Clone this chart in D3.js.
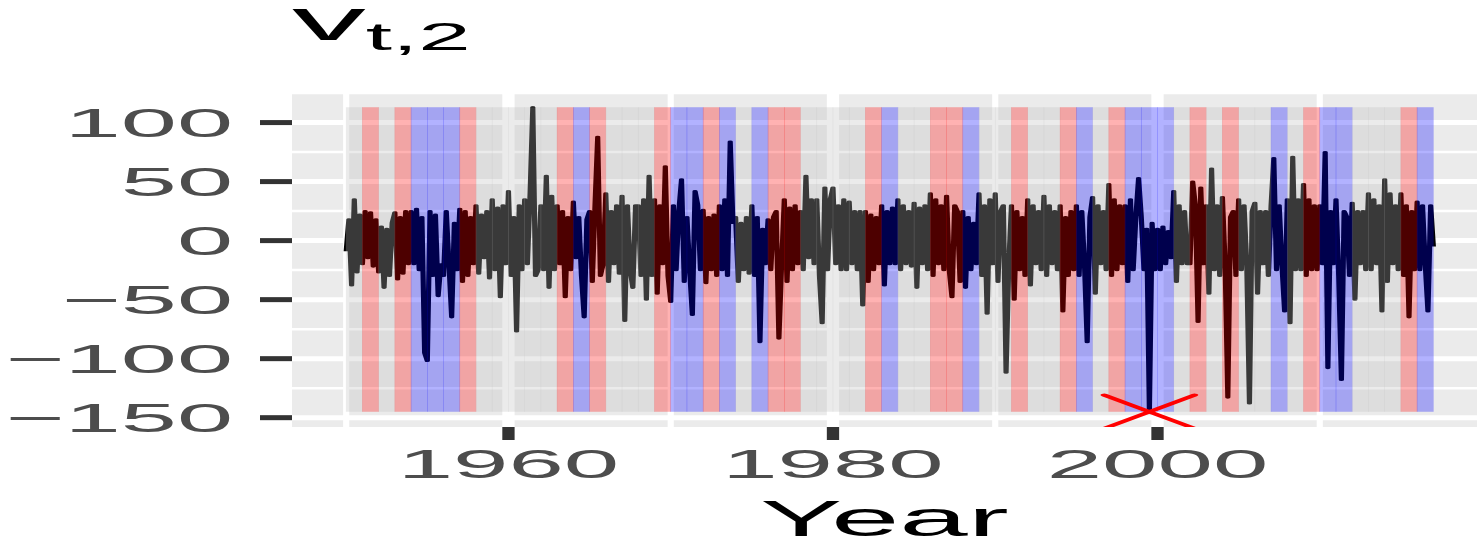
<!DOCTYPE html>
<html>
<head>
<meta charset="utf-8">
<script src="https://cdn.jsdelivr.net/npm/d3@7"></script>
<style>
  html, body { margin: 0; padding: 0; background: #ffffff; }
  svg { display: block; font-family: "Liberation Sans", Arial, Helvetica, sans-serif; }
</style>
</head>
<body>
<svg id="chart" width="1480" height="544"></svg>
<script>
// ---- data -------------------------------------------------------------
const yTicks = [-150, -100, -50, 0, 50, 100];
const yMinorTicks = [-125, -75, -25, 25, 75, 125];
const xTicks = [1960, 1980, 2000];
const xMinorTicks = [1950, 1970, 1990, 2010];
const xDomain = [1946.66, 2019.69];

// one shaded band per year starting at bandStart: n = neutral, r = red, b = blue
const bandStart = 1950;
const bandKinds = [
  "n","r","n","r","b","b","b","r","n","n",   // 1950s
  "n","n","n","r","b","r","n","n","n","r",   // 1960s
  "b","b","r","b","n","b","r","r","n","n",   // 1970s
  "n","n","r","b","n","n","r","r","b","n",   // 1980s
  "n","r","n","n","r","b","n","r","b","b",   // 1990s
  "b","n","r","n","r","n","n","b","n","r",   // 2000s
  "b","b","n","n","n","r","b"                // 2010s
];

// bimonthly series v_{t,2} (six values per year), starting at seriesStart
const seriesStart = 1950;
const perYear = 6;
const seriesValues = [
  -9, 18, -38, 35, -27, 22,      // 1950
  -20, 25, -15, 24, -22, 18,     // 1951
  -27, 12, -40, 10, -30, 15,     // 1952
  24, -33, 20, -28, 25, -20,     // 1953
  25, -20, 27, -25, 20, -95,     // 1954
  -102, 25, -30, 22, -47, -20,   // 1955
  -30, 25, -20, -65, 15, -25,    // 1956
  27, -35, 25, -30, 20, -20,     // 1957
  30, -28, 22, -15, 25, -32,     // 1958
  35, -25, 28, -48, 30, -20,     // 1959
  42, -30, 20, -77, 30, -25,     // 1960
  35, -20, 40, 113, -30, -25,    // 1961
  30, -25, 55, -40, 38, -25,     // 1962
  30, -20, 25, -48, 20, -25,     // 1963
  33, -15, 20, -30, -65, 18,     // 1964
  25, -35, 30, 88, -30, -20,     // 1965
  40, -35, 25, -20, 30, -28,     // 1966
  38, -68, 30, -25, -40, 30,     // 1967
  30, -30, 35, -50, 55, -30,     // 1968
  35, -45, 30, -20, 63, -30,     // 1969
  -52, 30, -25, 25, 52, -35,     // 1970
  20, -25, -63, 42, 30, -25,     // 1971
  26, -36, 20, -25, 22, -30,     // 1972
  30, -25, 35, -30, 84, 15,      // 1973
  20, -35, 15, -25, 20, -28,     // 1974
  30, -30, 20, -86, 10, -20,     // 1975
  18, -25, 20, 25, -83, -20,     // 1976
  35, -35, 28, -25, 30, -20,     // 1977
  25, -25, 55, -15, 35, -20,     // 1978
  35, -30, -70, 45, -25, 35,     // 1979
  45, -20, 30, -25, 35, -25,     // 1980
  33, -20, 25, -25, 25, -55,     // 1981
  25, -35, 22, -25, 20, -20,     // 1982
  30, -38, 25, -20, 28, -20,     // 1983
  35, -25, 30, -20, 25, -22,     // 1984
  32, -40, 28, -20, 30, -25,     // 1985
  40, -30, 35, -20, 30, -25,     // 1986
  38, -25, -48, 30, 25, -35,     // 1987
  25, -40, 20, -25, 15, -20,     // 1988
  40, -30, 30, -62, 35, -20,     // 1989
  40, -35, 25, 30, -112, -20,    // 1990
  30, -50, 25, -25, 20, -30,     // 1991
  35, -38, 30, -20, 25, -25,     // 1992
  38, -30, 30, -20, 25, -25,     // 1993
  30, -60, 20, -30, 25, -25,     // 1994
  30, -30, 25, -20, -86, 20,     // 1995
  37, -45, 30, -20, 25, -25,     // 1996
  48, -30, 35, -25, 30, -20,     // 1997
  30, -35, 35, -25, 20, 53,      // 1998
  20, -25, 10, -145, 15, -25,    // 1999
  10, -25, 12, -20, 8, -15,      // 2000
  42, -35, 30, -20, 25, -20,     // 2001
  -20, 50, 30, -69, 45, -20,     // 2002
  30, -45, 61, -25, 30, -30,     // 2003
  37, -20, -133, 20, 25, -30,    // 2004
  35, -25, 30, -20, -138, 25,    // 2005
  32, -45, 25, -20, 25, -30,     // 2006
  30, 70, -25, 30, -20, -60,     // 2007
  35, -70, 71, -25, 35, -25,     // 2008
  48, -30, 35, -25, 30, -25,     // 2009
  30, -20, 75, -108, 25, -20,    // 2010
  35, -30, -118, 25, 20, -30,    // 2011
  32, -50, 25, -20, 25, -25,     // 2012
  40, -25, 35, -20, 30, -60,     // 2013
  52, -35, 40, -20, 30, -25,     // 2014
  40, -30, 30, -65, 25, -25,     // 2015
  33, -25, 30, -20, -60, 30,     // 2016
  -5                             // 2017
];

// ---- layout -----------------------------------------------------------
// the whole figure is drawn in a frame stretched horizontally by K
const K = 2.46;
const panel = { x0: 292, x1: 1477, y0: 92, y1: 427 };

const series = seriesValues.map((v, i) => ({ t: seriesStart + i / perYear, v }));
const vMin = d3.min(series, d => d.v);
const vMax = d3.max(series, d => d.v);
const pad = (vMax - vMin) * 0.05;
const yDomain = [vMin - pad, vMax + pad];

const x = d3.scaleLinear().domain(xDomain).range([panel.x0 / K, panel.x1 / K]);
const y = d3.scaleLinear().domain(yDomain).range([panel.y1, panel.y0]);

const svg = d3.select("#chart");
const g = svg.append("g").attr("transform", `scale(${K},1)`);

g.append("clipPath").attr("id", "panel-clip")
  .append("rect")
  .attr("x", panel.x0 / K).attr("y", panel.y0)
  .attr("width", (panel.x1 - panel.x0) / K).attr("height", panel.y1 - panel.y0);

// panel background and grid
g.append("rect")
  .attr("x", panel.x0 / K).attr("y", panel.y0)
  .attr("width", (panel.x1 - panel.x0) / K).attr("height", panel.y1 - panel.y0)
  .attr("fill", "#EBEBEB");

const plot = g.append("g").attr("clip-path", "url(#panel-clip)");

plot.selectAll("line.hminor").data(yMinorTicks).join("line")
  .attr("x1", panel.x0 / K).attr("x2", panel.x1 / K)
  .attr("y1", d => y(d)).attr("y2", d => y(d))
  .attr("stroke", "#ffffff").attr("stroke-width", 2.5);
plot.selectAll("line.vminor").data(xMinorTicks).join("line")
  .attr("x1", d => x(d)).attr("x2", d => x(d))
  .attr("y1", panel.y0).attr("y2", panel.y1)
  .attr("stroke", "#ffffff").attr("stroke-width", 2.5);
plot.selectAll("line.hmajor").data(yTicks).join("line")
  .attr("x1", panel.x0 / K).attr("x2", panel.x1 / K)
  .attr("y1", d => y(d)).attr("y2", d => y(d))
  .attr("stroke", "#ffffff").attr("stroke-width", 5);
plot.selectAll("line.vmajor").data(xTicks).join("line")
  .attr("x1", d => x(d)).attr("x2", d => x(d))
  .attr("y1", panel.y0).attr("y2", panel.y1)
  .attr("stroke", "#ffffff").attr("stroke-width", 5);

// series line
const line = d3.line().x(d => x(d.t)).y(d => y(d.v));
plot.append("path")
  .datum(series)
  .attr("d", line)
  .attr("fill", "none")
  .attr("stroke", "#000000")
  .attr("stroke-width", 2.1)
  .attr("stroke-linejoin", "round");

// translucent yearly bands laid over the series
const bandFill = { n: "#BEBEBE", r: "#FF0000", b: "#0000FF" };
const overlap = 0.12;
plot.selectAll("rect.band").data(bandKinds).join("rect")
  .attr("x", (k, i) => x(bandStart + i) - overlap)
  .attr("width", (k, i) => x(bandStart + i + 1) - x(bandStart + i) + 2 * overlap)
  .attr("y", y(vMax))
  .attr("height", y(vMin) - y(vMax))
  .attr("fill", k => bandFill[k])
  .attr("fill-opacity", 0.3);

// cross at the series minimum
const low = series.find(d => d.v === vMin);
const cx = x(low.t), cy = y(low.v);
const armX = 45 / K, armY = 16.7;
plot.append("line")
  .attr("x1", cx - armX).attr("y1", cy - armY).attr("x2", cx + armX).attr("y2", cy + armY)
  .attr("stroke", "#FF0000").attr("stroke-width", 3).attr("stroke-linecap", "round");
plot.append("line")
  .attr("x1", cx - armX).attr("y1", cy + armY).attr("x2", cx + armX).attr("y2", cy - armY)
  .attr("stroke", "#FF0000").attr("stroke-width", 3).attr("stroke-linecap", "round");

// axes
g.selectAll("line.ytick").data(yTicks).join("line")
  .attr("x1", (panel.x0 - 32) / K).attr("x2", panel.x0 / K)
  .attr("y1", d => y(d)).attr("y2", d => y(d))
  .attr("stroke", "#333333").attr("stroke-width", 5);
g.selectAll("line.xtick").data(xTicks).join("line")
  .attr("x1", d => x(d)).attr("x2", d => x(d))
  .attr("y1", panel.y1).attr("y2", panel.y1 + 13)
  .attr("stroke", "#333333").attr("stroke-width", 5);

const fmt = v => (v < 0 ? "\u2212" + Math.abs(v) : String(v));
g.selectAll("text.ylab").data(yTicks).join("text")
  .attr("x", 233 / K).attr("y", d => y(d)).attr("dy", "0.36em")
  .attr("text-anchor", "end")
  .attr("font-size", 41).attr("fill", "#4D4D4D")
  .text(fmt);
g.selectAll("text.xlab").data(xTicks).join("text")
  .attr("x", d => x(d)).attr("y", 478)
  .attr("text-anchor", "middle")
  .attr("font-size", 40.5).attr("fill", "#4D4D4D")
  .text(d => String(d));

// axis title
g.append("text")
  .attr("x", (panel.x0 + panel.x1) / 2 / K).attr("y", 536)
  .attr("text-anchor", "middle")
  .attr("font-size", 50).attr("fill", "#000000")
  .text("Year");

// plot title v_{t,2}
const title = g.append("text")
  .attr("x", panel.x0 / K).attr("y", 40)
  .attr("font-size", 60).attr("fill", "#000000");
title.append("tspan").text("v");
title.append("tspan").attr("font-size", 38.4).attr("dy", 10).text("t,2");
</script>
</body>
</html>
